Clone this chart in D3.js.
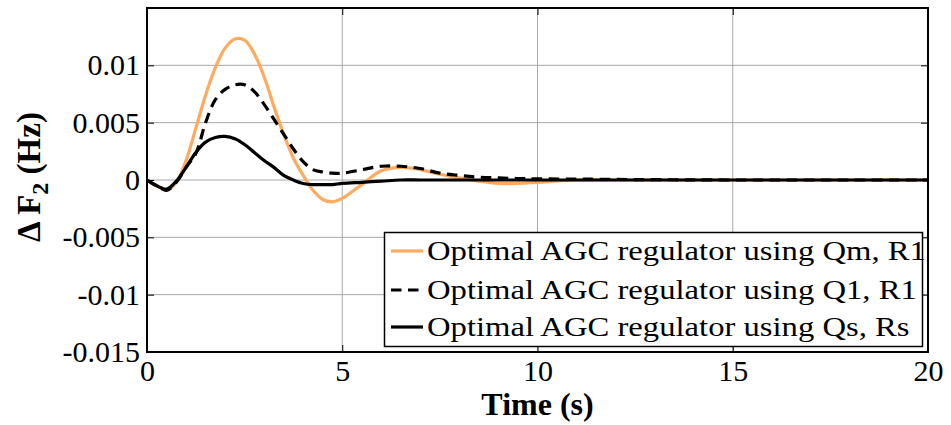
<!DOCTYPE html>
<html><head><meta charset="utf-8">
<script src="https://cdn.jsdelivr.net/npm/d3@7"></script>
<style>body{margin:0;background:#fff} svg{display:block}</style>
</head><body><svg id="chart" width="951" height="425"></svg>
<script>
// ---- data ----
const time = [0,0.25,0.5,0.75,1,1.25,1.5,1.75,2,2.25,2.5,2.75,3,3.25,3.5,3.75,4,4.25,4.5,4.75,5,5.5,6,6.5,7,7.5,8,8.5,9,9.5,10,11,12,13,14,15,16,18,20];
const qmR1 = [0,-0.0005,-0.0009,-0.0002,0.0017,0.0045,0.0074,0.0098,0.0115,0.0123,0.0122,0.0110,0.0090,0.0064,0.0040,0.0019,0.0004,-0.0009,-0.0017,-0.0019,-0.0016,-0.0004,0.0008,0.0011,0.0009,0.0005,0.0002,-0.0001,-0.0003,-0.0003,-0.0002,0,0,0,0,0,0,0,0];
const q1R1 = [0,-0.0005,-0.0009,-0.0002,0.0011,0.0023,0.0050,0.0070,0.0079,0.0083,0.0083,0.0077,0.0066,0.0053,0.0040,0.0027,0.0016,0.0009,0.0007,0.0006,0.0006,0.0009,0.0012,0.0012,0.0010,0.0006,0.0004,0.00025,0.00018,0.00013,0.0001,0.00008,0.00005,0.00003,0.00001,0,0,0,0];
const qsRs = [0,-0.0005,-0.0008,-0.0001,0.0011,0.0024,0.0033,0.0037,0.0038,0.0036,0.0031,0.0024,0.0017,0.0011,0.0004,0,-0.0003,-0.0004,-0.0004,-0.0004,-0.0003,-0.0002,-0.0001,0,0,0,0,0,0,0,0,0,0,0,0,0,0,0,0];
const seriesNames = ["Optimal AGC regulator using Qm, R1","Optimal AGC regulator using Q1, R1","Optimal AGC regulator using Qs, Rs"];
const xTicks = [0,5,10,15,20];
const xTickLabels = ["0","5","10","15","20"];
const yTicks = [-0.015,-0.01,-0.005,0,0.005,0.01];
const yTickLabels = ["-0.015","-0.01","-0.005","0","0.005","0.01"];
const xTitle = "Time (s)";

// ---- layout ----
const L = 147, T = 8, R = 928, B = 352;
const svg = d3.select("#chart");
const x = d3.scaleLinear().domain([0,20]).range([L,R]);
const y = d3.scaleLinear().domain([-0.015,0.015]).range([B,T]);
const font = "'Liberation Serif','Times New Roman',serif";

// grid
const g = svg.append("g");
g.selectAll(".gx").data(xTicks.slice(1,-1)).join("line")
  .attr("x1",d=>x(d)).attr("x2",d=>x(d)).attr("y1",T).attr("y2",B)
  .attr("stroke","#a8a8a8").attr("stroke-width",1);
g.selectAll(".gy").data(yTicks.slice(1)).join("line")
  .attr("y1",d=>y(d)).attr("y2",d=>y(d)).attr("x1",L).attr("x2",R)
  .attr("stroke","#a8a8a8").attr("stroke-width",1);

// curves
svg.append("defs").append("clipPath").attr("id","clip")
  .append("rect").attr("x",L).attr("y",T).attr("width",R-L).attr("height",B-T);
const line = vals => d3.line().x((d,i)=>x(time[i])).y(d=>y(d)).curve(d3.curveCatmullRom.alpha(0.5))(vals);
const styles = [
  {data:qmR1, color:"#ffaa5e", dash:null},
  {data:q1R1, color:"#000", dash:"10.5,6.5"},
  {data:qsRs, color:"#000", dash:null}
];
const cg = svg.append("g").attr("clip-path","url(#clip)");
styles.forEach(s=>{
  cg.append("path").attr("d",line(s.data)).attr("fill","none")
    .attr("stroke",s.color).attr("stroke-width",3.2)
    .attr("stroke-dasharray",s.dash);
});

// axes
svg.append("g").attr("transform",`translate(0,${B})`)
  .call(d3.axisBottom(x).tickValues(xTicks).tickFormat((d,i)=>xTickLabels[i]).tickSize(-7).tickPadding(8));
svg.append("g").attr("transform",`translate(${L},0)`)
  .call(d3.axisLeft(y).tickValues(yTicks).tickFormat((d,i)=>yTickLabels[i]).tickSize(-7).tickPadding(7));
svg.append("g").attr("transform",`translate(0,${T})`)
  .call(d3.axisTop(x).tickValues(xTicks).tickFormat("").tickSize(-7));
svg.append("g").attr("transform",`translate(${R},0)`)
  .call(d3.axisRight(y).tickValues(yTicks).tickFormat("").tickSize(-7));
svg.selectAll(".domain").remove();
svg.selectAll(".tick line").attr("stroke","#000").attr("stroke-width",1);
svg.selectAll(".tick text").style("font-family",font).style("font-size","30px").attr("fill","#000");
svg.append("rect").attr("x",L).attr("y",T).attr("width",R-L).attr("height",B-T)
  .attr("fill","none").attr("stroke","#000").attr("stroke-width",2);

// axis titles
svg.append("text").attr("x",(L+R)/2).attr("y",415).attr("text-anchor","middle")
  .style("font-family",font).style("font-size","32px").attr("font-weight","bold").text(xTitle);
const yl = svg.append("text").attr("transform","translate(40,177) rotate(-90)")
  .attr("text-anchor","middle").style("font-family",font).style("font-size","33px").attr("font-weight","bold");
yl.append("tspan").text("\u0394 F");
yl.append("tspan").style("font-size","24px").attr("dy",8).text("2");
yl.append("tspan").attr("dy",-8).text(" (Hz)");

// legend
const lg = svg.append("g");
lg.append("rect").attr("x",384.5).attr("y",232.5).attr("width",538).attr("height",114)
  .attr("fill","#fff").attr("stroke","#000").attr("stroke-width",1.5);
const rowY = [251,290,327];
styles.forEach((s,i)=>{
  lg.append("line").attr("x1",391).attr("x2",423).attr("y1",rowY[i]).attr("y2",rowY[i])
    .attr("stroke",s.color).attr("stroke-width",3.2).attr("stroke-dasharray",s.dash);
  lg.append("text").attr("transform",`translate(427,${rowY[i]}) scale(1.21,1)`).attr("dy","0.35em")
    .style("font-family",font).style("font-size","27px").text(seriesNames[i]);
});
</script></body></html>
